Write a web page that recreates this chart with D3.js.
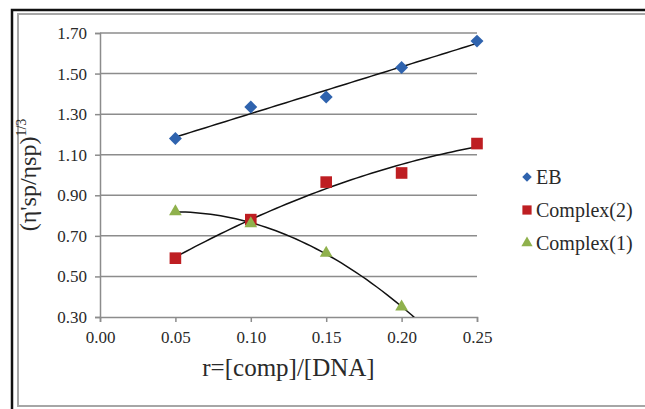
<!DOCTYPE html>
<html><head><meta charset="utf-8"><script src="https://cdn.jsdelivr.net/npm/d3@7"></script></head>
<body style="margin:0">
<svg id="chart" width="645" height="409"></svg>
<script>
// ---- data ----
const xValues = [0.05, 0.10, 0.15, 0.20, 0.25];
const ebValues = [1.18, 1.335, 1.385, 1.53, 1.66];
const complex2Values = [0.59, 0.78, 0.965, 1.01, 1.155];
const complex1X = [0.05, 0.10, 0.15, 0.20];
const complex1Values = [0.82, 0.76, 0.615, 0.35];
const xTicks = [0, 0.05, 0.10, 0.15, 0.20, 0.25];
const yTicks = [0.30, 0.50, 0.70, 0.90, 1.10, 1.30, 1.50, 1.70];
const legendNames = ["EB", "Complex(2)", "Complex(1)"];

const width = 645, height = 409;
const margin = { top: 33, right: 168, bottom: 92, left: 100 };
const fontFamily = '"Liberation Serif", monospace';
const textColor = "#2a2a2a";

const svg = d3.select("#chart");

const xScale = d3.scaleLinear().domain([0, 0.25]).range([margin.left, width - margin.right]);
const yScale = d3.scaleLinear().domain([0.30, 1.70]).range([height - margin.bottom, margin.top]);

// frame
svg.append("rect").attr("x", 18).attr("y", 14).attr("width", 640).attr("height", 392)
  .attr("fill", "#fff").attr("stroke", "#a6a6a6").attr("stroke-width", 2);
svg.append("path").attr("d", "M12,409 V10 H645")
  .attr("fill", "none").attr("stroke", "#111").attr("stroke-width", 2.5);

// gridlines
svg.append("g")
  .selectAll("line")
  .data(yTicks.slice(1))
  .join("line")
  .attr("x1", xScale(0)).attr("x2", xScale(0.25))
  .attr("y1", d => yScale(d)).attr("y2", d => yScale(d))
  .attr("stroke", "#8c8c8c").attr("stroke-width", 1.5);

// axes
const xAxis = svg.append("g")
  .attr("transform", `translate(0, ${yScale(0.30)})`)
  .call(d3.axisBottom(xScale).tickValues(xTicks).tickFormat(d3.format(".2f")).tickSize(5).tickPadding(9));
const yAxis = svg.append("g")
  .attr("transform", `translate(${xScale(0)}, 0)`)
  .call(d3.axisLeft(yScale).tickValues(yTicks).tickFormat(d3.format(".2f")).tickSize(5).tickPadding(8));

[xAxis, yAxis].forEach(a => {
  a.attr("font-family", null).attr("font-size", null);
  a.select(".domain").attr("stroke", "#8c8c8c").attr("stroke-width", 1.5);
  a.selectAll(".tick line").attr("stroke", "#8c8c8c").attr("stroke-width", 1.5);
  a.selectAll(".tick text").attr("fill", textColor)
    .style("font-family", fontFamily).style("font-size", "17px");
});

// axis titles
svg.append("text")
  .attr("x", (xScale(0) + xScale(0.25)) / 2).attr("y", 376)
  .attr("text-anchor", "middle")
  .style("font-family", fontFamily).style("font-size", "25px").attr("fill", textColor)
  .text("r=[comp]/[DNA]");

const yTitle = svg.append("text")
  .attr("transform", `translate(36, ${(yScale(0.30) + yScale(1.70)) / 2}) rotate(-90)`)
  .attr("text-anchor", "middle")
  .style("font-family", fontFamily).style("font-size", "24px").attr("fill", textColor);
yTitle.append("tspan").text("(η'sp/ηsp)");
yTitle.append("tspan").attr("dy", -10).style("font-size", "14px").text("1/3");

// ---- fits ----
function polyFit(xs, ys, deg) {
  const n = deg + 1;
  const A = Array.from({ length: n }, () => new Array(n + 1).fill(0));
  xs.forEach((x, k) => {
    for (let i = 0; i < n; i++) {
      for (let j = 0; j < n; j++) A[i][j] += Math.pow(x, i + j);
      A[i][n] += ys[k] * Math.pow(x, i);
    }
  });
  for (let i = 0; i < n; i++) {
    let p = i;
    for (let r = i + 1; r < n; r++) if (Math.abs(A[r][i]) > Math.abs(A[p][i])) p = r;
    [A[i], A[p]] = [A[p], A[i]];
    for (let r = 0; r < n; r++) {
      if (r === i) continue;
      const f = A[r][i] / A[i][i];
      for (let c = i; c <= n; c++) A[r][c] -= f * A[i][c];
    }
  }
  const coef = A.map((row, i) => row[n] / row[i]);
  return x => coef.reduce((s, c, i) => s + c * Math.pow(x, i), 0);
}

const fitEB = polyFit(xValues, ebValues, 1);
const fit2 = polyFit(xValues, complex2Values, 2);
const fit1 = polyFit(complex1X, complex1Values, 2);

svg.append("clipPath").attr("id", "plotClip")
  .append("rect")
  .attr("x", xScale(0)).attr("y", yScale(1.70))
  .attr("width", xScale(0.25) - xScale(0)).attr("height", yScale(0.30) - yScale(1.70));

const lineGen = d3.line().x(d => xScale(d[0])).y(d => yScale(d[1]));
const sample = (f, a, b) => d3.range(0, 61).map(i => { const x = a + (b - a) * i / 60; return [x, f(x)]; });

const trend = svg.append("g").attr("clip-path", "url(#plotClip)");
[fitEB, fit2, fit1].forEach(f => {
  trend.append("path")
    .datum(sample(f, 0.05, 0.25))
    .attr("d", lineGen)
    .attr("fill", "none").attr("stroke", "#111").attr("stroke-width", 1.5);
});

// ---- markers ----
const colors = ["#2f63ae", "#be1e22", "#8fb14c"];
const markerDefs = [
  { sym: d3.symbolSquare, size: 84, rot: 45 },
  { sym: d3.symbolSquare, size: 135, rot: 0 },
  { sym: d3.symbolTriangle, size: 70, rot: 0 }
];
const seriesPoints = [
  xValues.map((x, i) => [x, ebValues[i]]),
  xValues.map((x, i) => [x, complex2Values[i]]),
  complex1X.map((x, i) => [x, complex1Values[i]])
];

seriesPoints.forEach((pts, s) => {
  svg.append("g").selectAll("path")
    .data(pts)
    .join("path")
    .attr("transform", d => `translate(${xScale(d[0])},${yScale(d[1])}) rotate(${markerDefs[s].rot})`)
    .attr("d", d3.symbol().type(markerDefs[s].sym).size(markerDefs[s].size))
    .attr("fill", colors[s]);
});

// ---- legend ----
const legendSizes = [45, 85, 55];
const legend = svg.append("g").attr("transform", "translate(527, 177)");
legendNames.forEach((name, i) => {
  const g = legend.append("g").attr("transform", `translate(0, ${i * 33})`);
  g.append("path")
    .attr("transform", `rotate(${markerDefs[i].rot})`)
    .attr("d", d3.symbol().type(markerDefs[i].sym).size(legendSizes[i]))
    .attr("fill", colors[i]);
  g.append("text").attr("x", 9).attr("y", 7)
    .style("font-family", fontFamily).style("font-size", "20px").attr("fill", textColor)
    .text(name);
});
</script>
</body>
</html>
